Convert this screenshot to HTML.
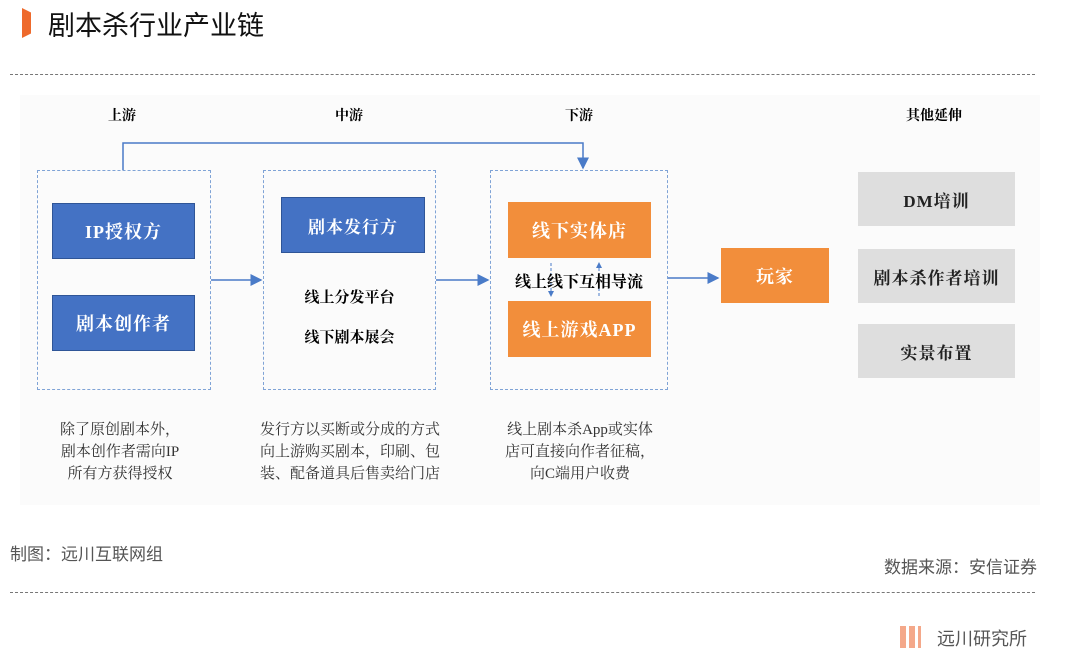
<!DOCTYPE html>
<html><head><meta charset="utf-8"><style>
body{margin:0;width:1080px;height:657px;background:#fff;position:relative;overflow:hidden;font-family:"Liberation Sans","Noto Sans CJK SC",sans-serif}
.a{position:absolute}
.s{font-family:"Liberation Serif","Noto Serif CJK SC",serif;font-weight:bold}
.box{position:absolute;display:flex;align-items:center;justify-content:center;color:#fff;font-size:18px;letter-spacing:1px}
.bl{background:#4472c4;border:1px solid #2f5597}
.or{background:#f28e3b}
.gr{background:#dedede;color:#222}
.dash{position:absolute;border:1.5px dashed #7fa3d6}
.cap{position:absolute;font-size:15px;line-height:22px;text-align:center;color:#333;width:220px}
</style></head><body>
<div class="a" style="left:22px;top:8px;width:9px;height:30px;background:#ee6a2c;clip-path:polygon(0 0,100% 15%,100% 85%,0 100%)"></div>
<div class="a" style="left:48px;top:4px;font-size:27px;color:#111">剧本杀行业产业链</div>
<div class="a" style="left:10px;top:74px;width:1025px;border-top:1.5px dashed #777"></div>
<div class="a" style="left:20px;top:95px;width:1020px;height:410px;background:#fbfbfb"></div>

<div class="a s" style="left:108px;top:105px;font-size:14px">上游</div>
<div class="a s" style="left:335px;top:105px;font-size:14px">中游</div>
<div class="a s" style="left:565px;top:105px;font-size:14px">下游</div>
<div class="a s" style="left:906px;top:105px;font-size:14px">其他延伸</div>

<svg class="a" style="left:0;top:0" width="1080" height="657">
<defs>
<marker id="m" markerWidth="8" markerHeight="8" refX="7" refY="4" orient="auto"><path d="M0,0L8,4L0,8z" fill="#4a7bc8"/></marker>
<marker id="n" markerWidth="6" markerHeight="6" refX="5" refY="3" orient="auto"><path d="M0,0L6,3L0,6z" fill="#4a7bc8"/></marker>
</defs>
<g stroke="#4a7bc8" stroke-width="1.5" fill="none">
<path d="M123,170V143H583V168" marker-end="url(#m)"/>
<path d="M211,280H261" marker-end="url(#m)"/>
<path d="M436,280H488" marker-end="url(#m)"/>
<path d="M668,278H718" marker-end="url(#m)"/>
</g>
<g stroke="#4a7bc8" stroke-width="1" fill="none" stroke-dasharray="3,2">
<path d="M551,263V296" marker-end="url(#n)"/>
<path d="M599,296V263" marker-end="url(#n)"/>
</g></svg>

<div class="dash" style="left:37px;top:170px;width:172px;height:218px"></div>
<div class="dash" style="left:263px;top:170px;width:171px;height:218px"></div>
<div class="dash" style="left:490px;top:170px;width:176px;height:218px"></div>

<div class="box bl s" style="left:52px;top:203px;width:141px;height:54px">IP授权方</div>
<div class="box bl s" style="left:52px;top:295px;width:141px;height:54px">剧本创作者</div>
<div class="box bl s" style="left:281px;top:197px;width:142px;height:54px;font-size:17px">剧本发行方</div>
<div class="a s" style="left:263px;width:173px;top:286px;text-align:center;font-size:15px">线上分发平台</div>
<div class="a s" style="left:263px;width:173px;top:326px;text-align:center;font-size:15px">线下剧本展会</div>

<div class="box or s" style="left:508px;top:202px;width:143px;height:56px">线下实体店</div>
<div class="a s" style="left:490px;width:178px;top:269px;text-align:center;font-size:16px">线上线下互相导流</div>
<div class="box or s" style="left:508px;top:301px;width:143px;height:56px">线上游戏APP</div>
<div class="box or s" style="left:721px;top:248px;width:108px;height:55px">玩家</div>

<div class="box gr s" style="left:858px;top:172px;width:157px;height:54px;font-size:17px">DM培训</div>
<div class="box gr s" style="left:858px;top:249px;width:157px;height:54px;font-size:17px">剧本杀作者培训</div>
<div class="box gr s" style="left:858px;top:324px;width:157px;height:54px;font-size:17px">实景布置</div>

<div class="cap s" style="left:10px;top:419px;font-weight:normal">除了原创剧本外，<br>剧本创作者需向IP<br>所有方获得授权</div>
<div class="cap s" style="left:240px;top:419px;font-weight:normal">发行方以买断或分成的方式<br>向上游购买剧本，印刷、包<br>装、配备道具后售卖给门店</div>
<div class="cap s" style="left:470px;top:419px;font-weight:normal">线上剧本杀App或实体<br>店可直接向作者征稿，<br>向C端用户收费</div>

<div class="a" style="left:10px;top:540px;font-size:17px;color:#555">制图：远川互联网组</div>
<div class="a" style="right:43px;top:553px;font-size:17px;color:#555">数据来源：安信证券</div>
<div class="a" style="left:10px;top:592px;width:1025px;border-top:1.5px dashed #777"></div>
<div class="a" style="left:900px;top:626px;width:6px;height:22px;background:#f4a88a"></div>
<div class="a" style="left:909px;top:626px;width:6px;height:22px;background:#f4a88a"></div>
<div class="a" style="left:918px;top:626px;width:3px;height:22px;background:#f4a88a"></div>
<div class="a" style="left:937px;top:625px;font-size:18px;color:#555">远川研究所</div>
</body></html>
